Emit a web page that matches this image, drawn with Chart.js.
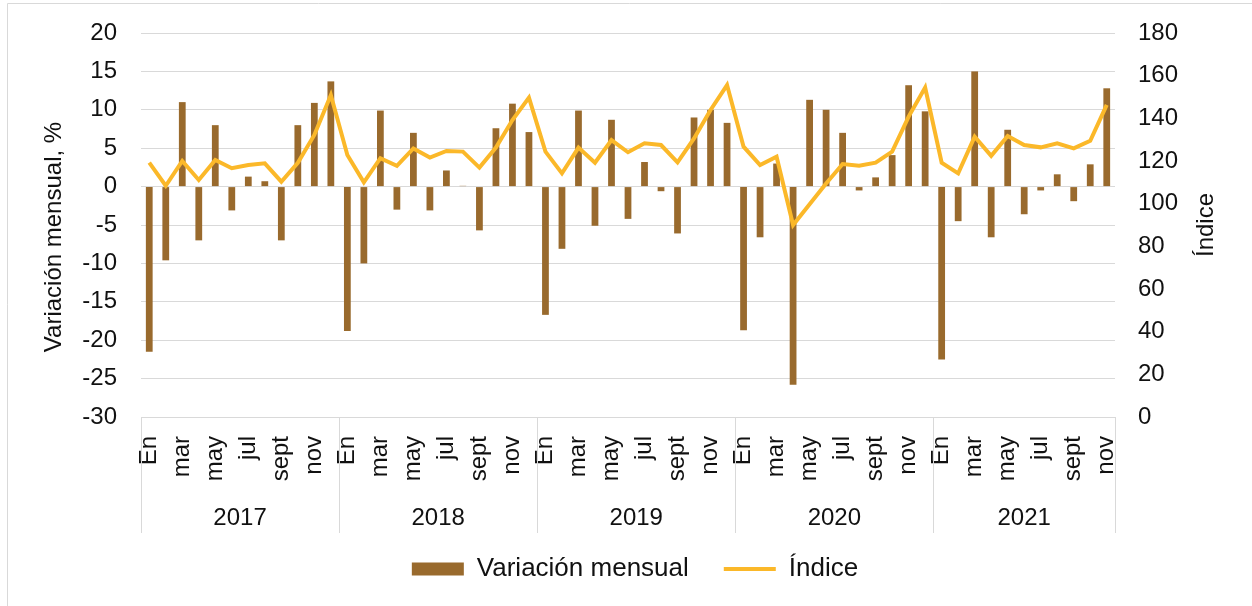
<!DOCTYPE html>
<html>
<head>
<meta charset="utf-8">
<script src="https://cdn.jsdelivr.net/npm/chart.js@4"></script>
<style>
  body { margin: 0; background: #ffffff; }
  #wrap { width: 1252px; height: 606px; }
</style>
</head>
<body>
<div id="wrap"><canvas id="grafico" width="1252" height="606"></canvas></div>
<script>
// datos
var years = ['2017', '2018', '2019', '2020', '2021'];
var monthsPerYear = [12, 12, 12, 12, 11];
var monthLabels = ['En', '', 'mar', '', 'may', '', 'jul', '', 'sept', '', 'nov', ''];

var variacion = [
  -21.5, -9.6, 11.0, -7.0, 8.0, -3.1, 1.3, 0.7, -7.0, 8.0, 10.9, 13.7,
  -18.8, -10.0, 9.9, -3.0, 7.0, -3.1, 2.1, 0.1, -5.7, 7.6, 10.8, 7.1,
  -16.7, -8.1, 9.9, -5.1, 8.7, -4.2, 3.2, -0.6, -6.1, 9.0, 10.0, 8.3,
  -18.7, -6.6, 3.0, -25.8, 11.3, 10.0, 7.0, -0.5, 1.2, 4.1, 13.2, 9.8,
  -22.5, -4.5, 15.0, -6.6, 7.4, -3.6, -0.5, 1.6, -1.9, 2.9, 12.8
];
var indice = [
  119.2, 108.4, 120.0, 111.1, 120.5, 116.6, 118.1, 118.9, 110.3, 119.2, 132.2, 150.9,
  122.8, 110.0, 121.3, 117.7, 125.9, 121.6, 124.7, 124.4, 116.9, 126.3, 139.2, 149.7,
  124.4, 114.2, 126.3, 119.2, 129.8, 124.1, 128.3, 127.5, 119.4, 130.6, 143.9, 155.6,
  126.7, 118.1, 122.0, 90.0, 99.7, 109.5, 118.6, 117.8, 119.2, 124.4, 140.8, 154.4,
  119.2, 114.2, 131.4, 122.4, 131.7, 127.5, 126.4, 128.3, 125.9, 129.5, 146.3
];

var labels = [];
for (let y = 0; y < years.length; y++) {
  for (let m = 0; m < monthsPerYear[y]; m++) {
    labels.push(monthLabels[m]);
  }
}

const fuente = 'Liberation Sans, Arial, sans-serif';
const colorTexto = '#111111';
const colorGrid = '#d9d9d9';

// años, separadores, titulos de ejes y marco
const extras = {
  id: 'extras',
  beforeDraw(chart) {
    const ctx = chart.ctx;
    ctx.save();
    ctx.strokeStyle = colorGrid;
    ctx.lineWidth = 1;
    ctx.beginPath();
    ctx.moveTo(7.5, 606);
    ctx.lineTo(7.5, 3.5);
    ctx.lineTo(1252, 3.5);
    ctx.stroke();
    ctx.restore();
  },
  afterDraw(chart) {
    const ctx = chart.ctx;
    const x = chart.scales.x;
    const area = chart.chartArea;
    const half = (x.getPixelForValue(1) - x.getPixelForValue(0)) / 2;
    ctx.save();
    ctx.strokeStyle = colorGrid;
    ctx.lineWidth = 1;
    ctx.fillStyle = colorTexto;
    ctx.font = '24px ' + fuente;
    ctx.textAlign = 'center';
    ctx.textBaseline = 'middle';
    let start = 0;
    for (let y = 0; y <= years.length; y++) {
      const idx = y < years.length ? start : start - 1;
      const px = y < years.length ? x.getPixelForValue(idx) - half : x.getPixelForValue(idx) + half;
      const xx = Math.round(px) + 0.5;
      ctx.beginPath();
      ctx.moveTo(xx, area.bottom);
      ctx.lineTo(xx, 533);
      ctx.stroke();
      if (y < years.length) {
        const a = x.getPixelForValue(start);
        const b = x.getPixelForValue(start + monthsPerYear[y] - 1);
        ctx.fillText(years[y], (a + b) / 2, 518);
        start += monthsPerYear[y];
      }
    }
    // titulos de ejes
    ctx.save();
    ctx.translate(54, 237);
    ctx.rotate(-Math.PI / 2);
    ctx.fillText('Variación mensual, %', 0, 0);
    ctx.restore();
    ctx.save();
    ctx.translate(1206, 225);
    ctx.rotate(-Math.PI / 2);
    ctx.fillText('Índice', 0, 0);
    ctx.restore();
    ctx.restore();
  }
};

const ctx = document.getElementById('grafico');
const myChart = new Chart(ctx, {
  data: {
    labels: labels,
    datasets: [
      {
        type: 'bar',
        label: 'Variación mensual',
        data: variacion,
        backgroundColor: '#996A2D',
        borderWidth: 0,
        yAxisID: 'y',
        categoryPercentage: 1,
        barPercentage: 0.41,
        order: 1
      },
      {
        type: 'line',
        label: 'Índice',
        data: indice,
        borderColor: '#FBB829',
        backgroundColor: '#FBB829',
        borderWidth: 4,
        pointRadius: 0,
        tension: 0,
        yAxisID: 'y1',
        order: 0
      }
    ]
  },
  options: {
    responsive: false,
    animation: false,
    layout: { padding: { top: 33, left: 18, right: 0, bottom: 14 } },
    plugins: {
      tooltip: { enabled: false },
      legend: {
        position: 'bottom',
        labels: {
          color: colorTexto,
          font: { family: fuente, size: 26 },
          usePointStyle: true,
          pointStyleWidth: 52,
          boxHeight: 13,
          padding: 35,
          sort: function (a, b) { return a.datasetIndex - b.datasetIndex; },
          generateLabels: function (chart) {
            const items = Chart.defaults.plugins.legend.labels.generateLabels(chart);
            items.forEach(function (it) {
              if (it.datasetIndex === 0) {
                it.pointStyle = 'rect';
                it.lineWidth = 0;
                it.strokeStyle = '#996A2D';
              } else {
                it.pointStyle = 'line';
                it.lineWidth = 4;
                it.strokeStyle = '#FBB829';
              }
            });
            return items;
          }
        }
      }
    },
    scales: {
      x: {
        grid: { display: false },
        border: { display: false },
        ticks: {
          autoSkip: false,
          maxRotation: 90,
          minRotation: 90,
          padding: 11,
          color: colorTexto,
          font: { family: fuente, size: 24 }
        },
        afterFit: function (scale) { scale.height = 104; }
      },
      y: {
        position: 'left',
        min: -30,
        max: 20,
        ticks: {
          stepSize: 5,
          padding: 24,
          color: colorTexto,
          font: { family: fuente, size: 24 }
        },
        grid: { color: colorGrid, drawTicks: false },
        border: { display: false },
        afterFit: function (scale) {
          scale.width = 123;
          scale.paddingTop = 12;
          scale.paddingBottom = 12;
        }
      },
      y1: {
        position: 'right',
        min: 0,
        max: 180,
        ticks: {
          stepSize: 20,
          padding: 23,
          color: colorTexto,
          font: { family: fuente, size: 24 }
        },
        grid: { drawOnChartArea: false, drawTicks: false },
        border: { display: false },
        afterFit: function (scale) {
          scale.width = 137;
          scale.paddingTop = 12;
          scale.paddingBottom = 12;
        }
      }
    }
  },
  plugins: [extras]
});
</script>
</body>
</html>
